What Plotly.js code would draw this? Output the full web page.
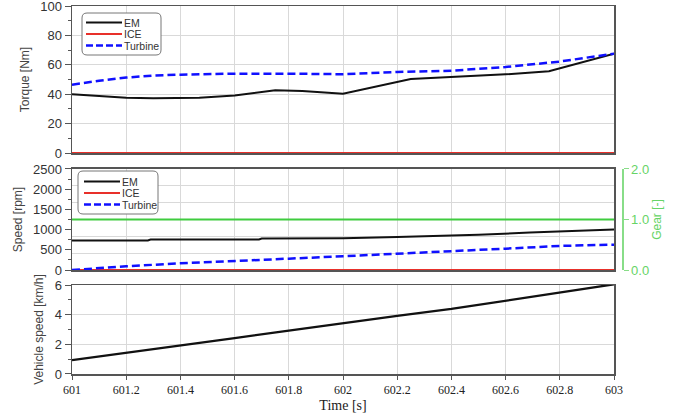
<!DOCTYPE html>
<html>
<head>
<meta charset="utf-8">
<script src="https://cdn.plot.ly/plotly-3.0.1.min.js"></script>
<style>html,body{margin:0;padding:0;background:#fff;}#chart{width:685px;height:418px;}</style>
</head>
<body>
<div id="chart"></div>
<script>
// ---- Torque panel ----
const torqueEmTime = [601, 601.1, 601.2, 601.3, 601.47, 601.6, 601.75, 601.85, 602.0, 602.25, 602.4, 602.6, 602.76, 603];
const torqueEm     = [40, 39, 37.6, 37.3, 37.6, 39.2, 42.7, 42.2, 40.3, 50.3, 51.5, 53.5, 55.6, 67.6];
const torqueTurbTime = [601, 601.1, 601.2, 601.3, 601.4, 601.5, 601.6, 601.8, 602.0, 602.2, 602.4, 602.6, 602.8, 603];
const torqueTurb     = [46.5, 49.2, 51.3, 52.7, 53.3, 53.8, 54.0, 54.0, 53.6, 55.1, 56.0, 58.5, 62.2, 67.6];
const torqueIceTime = [601, 603];
const torqueIce     = [0, 0];

// ---- Speed panel ----
const speedEmTime = [601, 601.28, 601.29, 601.69, 601.7, 602.0, 602.2, 602.5, 602.69, 603];
const speedEm     = [728, 730, 752, 755, 778, 785, 815, 870, 926, 1000];
const speedTurbTime = [601, 601.08, 601.2, 601.4, 601.6, 601.8, 602.0, 602.2, 602.4, 602.6, 602.8, 603];
const speedTurb     = [0, 42, 92, 166, 232, 281, 340, 397, 464, 529, 596, 628];
const speedIceTime = [601, 603];
const speedIce     = [0, 0];
const gearTime = [601, 603];
const gear     = [1, 1];

// ---- Vehicle speed panel ----
const vehTime = [601, 601.2, 601.4, 601.6, 601.8, 602.0, 602.2, 602.4, 602.6, 602.8, 603];
const vehSpeed = [0.93, 1.41, 1.9, 2.42, 2.93, 3.45, 3.92, 4.39, 4.96, 5.53, 6.05];

const xTicks = [601, 601.2, 601.4, 601.6, 601.8, 602, 602.2, 602.4, 602.6, 602.8, 603];
const xTickText = ['601','601.2','601.4','601.6','601.8','602','602.2','602.4','602.6','602.8','603'];
const torqueTicks = [0, 20, 40, 60, 80, 100];
const legendNames = ['EM', 'ICE', 'Turbine'];

const cBlack = '#111111', cRed = '#e8302a', cBlue = '#1010ff', cGreen = '#3fcc3f';
const dashPat = '8px,4px';

const traces = [
  {x: torqueEmTime, y: torqueEm, name: 'EM', xaxis: 'x', yaxis: 'y', mode: 'lines', line: {color: cBlack, width: 2}},
  {x: torqueIceTime, y: torqueIce, name: 'ICE', xaxis: 'x', yaxis: 'y', mode: 'lines', line: {color: cRed, width: 2}, cliponaxis: false},
  {x: torqueTurbTime, y: torqueTurb, name: 'Turbine', xaxis: 'x', yaxis: 'y', mode: 'lines', line: {color: cBlue, width: 2.5, dash: dashPat}},

  {x: gearTime, y: gear, name: 'Gear', xaxis: 'x2', yaxis: 'y4', mode: 'lines', line: {color: cGreen, width: 2}},
  {x: speedEmTime, y: speedEm, name: 'EM', xaxis: 'x2', yaxis: 'y2', mode: 'lines', line: {color: cBlack, width: 2}},
  {x: speedIceTime, y: speedIce, name: 'ICE', xaxis: 'x2', yaxis: 'y2', mode: 'lines', line: {color: cRed, width: 2}, cliponaxis: false},
  {x: speedTurbTime, y: speedTurb, name: 'Turbine', xaxis: 'x2', yaxis: 'y2', mode: 'lines', line: {color: cBlue, width: 2.5, dash: dashPat}},

  {x: vehTime, y: vehSpeed, name: 'Vehicle speed', xaxis: 'x3', yaxis: 'y3', mode: 'lines', line: {color: cBlack, width: 2.2}}
];

const gridC = '#d9d9d9';
const frameC = '#555555';
const sans = 'Liberation Sans, Arial, sans-serif';
const serif = 'Liberation Serif, Times New Roman, serif';
const xDom = [0, 0.914];

// pixel -> paper helpers (margins l=72, r=20, t=6, b=44)
const PL = 72, PW = 593, PB = 374, PH = 368;
const px = v => (v - PL) / PW;
const py = v => (PB - v) / PH;

function xAx(anchor, showLabels) {
  return {
    domain: xDom, anchor: anchor, range: [601, 603], showgrid: true, gridcolor: gridC, gridwidth: 1,
    tickvals: xTicks, ticktext: xTickText, showticklabels: showLabels,
    ticks: showLabels ? 'outside' : '', ticklen: 4, tickcolor: frameC,
    showline: true, linecolor: frameC, linewidth: 1.5, mirror: true, zeroline: false,
    ticklabeloverflow: 'allow',
    tickfont: {family: serif, size: 12, color: '#222'}
  };
}
function yAx(anchor, dom, rng, dtick, minorDtick, title) {
  return {
    domain: dom, anchor: anchor, range: rng, dtick: dtick, tick0: 0,
    showgrid: true, gridcolor: gridC, zeroline: false,
    ticks: 'outside', ticklen: 6, tickcolor: frameC,
    minor: {dtick: minorDtick, ticks: 'outside', ticklen: 3, tickcolor: frameC, showgrid: false},
    showline: true, linecolor: frameC, linewidth: 1.5, mirror: true,
    ticklabeloverflow: 'allow',
    tickfont: {family: sans, size: 13, color: '#333'},
    title: {text: title, font: {family: sans, size: 12, color: '#444'}, standoff: 8}
  };
}

// manual compact legends (box + samples + labels)
function roundRect(x0, y0, x1, y1, r) {
  const X0 = px(x0), X1 = px(x1), Y0 = py(y0), Y1 = py(y1);
  const rx = r / PW, ry = r / PH;
  return `M${X0 + rx},${Y0} L${X1 - rx},${Y0} Q${X1},${Y0} ${X1},${Y0 - ry} L${X1},${Y1 + ry} Q${X1},${Y1} ${X1 - rx},${Y1} L${X0 + rx},${Y1} Q${X0},${Y1} ${X0},${Y1 + ry} L${X0},${Y0 - ry} Q${X0},${Y0} ${X0 + rx},${Y0} Z`;
}
const shapes = [], annotations = [];
function addLegend(box, lineX0, lineX1, textX, rowsY) {
  shapes.push({type: 'path', xref: 'paper', yref: 'paper', path: roundRect(box[0], box[1], box[2], box[3], 5),
    line: {color: '#777', width: 1}, fillcolor: '#ffffff', layer: 'above'});
  const styles = [
    {color: cBlack, width: 2, dash: 'solid'},
    {color: cRed, width: 2, dash: 'solid'},
    {color: cBlue, width: 2.5, dash: '7px,3px'}
  ];
  rowsY.forEach((yy, i) => {
    shapes.push({type: 'line', xref: 'paper', yref: 'paper', x0: px(lineX0), x1: px(lineX1), y0: py(yy), y1: py(yy),
      line: styles[i], layer: 'above'});
    annotations.push({xref: 'paper', yref: 'paper', x: px(textX), y: py(yy), xanchor: 'left', yanchor: 'middle',
      text: legendNames[i], showarrow: false, borderpad: 0, font: {family: sans, size: 10.5, color: '#333'}});
  });
}
addLegend([82, 13, 161, 55], 86, 122, 123, [22.6, 34.1, 45.6]);
addLegend([78, 171, 158, 214], 84, 120, 121, [181.6, 193.1, 204.6]);

const layout = {
  width: 685, height: 418,
  margin: {l: PL, r: 20, t: 6, b: 44},
  paper_bgcolor: '#ffffff', plot_bgcolor: '#ffffff',
  showlegend: false,
  xaxis: xAx('y', false),
  xaxis2: Object.assign(xAx('y2', false), {matches: 'x'}),
  xaxis3: Object.assign(xAx('y3', true), {matches: 'x',
    title: {text: 'Time [s]', font: {family: serif, size: 14, color: '#222'}, standoff: 4}}),
  yaxis: Object.assign(yAx('x', [0.6005, 1], [0, 100], 20, 10, 'Torque [Nm]'), {tickvals: torqueTicks}),
  yaxis2: Object.assign(yAx('x2', [0.2826, 0.5571], [0, 2500], 500, 250, 'Speed [rpm]'), {showgrid: false}),
  yaxis3: yAx('x3', [0, 0.2418], [0, 6], 2, 1, 'Vehicle speed [km/h]'),
  yaxis4: {
    overlaying: 'y2', side: 'right', anchor: 'free', position: 0.9275,
    range: [0, 2], tickvals: [0, 1, 2], ticktext: ['0.0', '1.0', '2.0'],
    showgrid: false, zeroline: false,
    minor: {tickvals: [1/3, 2/3, 4/3, 5/3], showgrid: true, gridcolor: gridC, ticks: ''},
    ticks: 'outside', ticklen: 5, tickcolor: '#88dd88',
    showline: true, linecolor: '#88dd88', linewidth: 1.5,
    ticklabeloverflow: 'allow',
    tickfont: {family: sans, size: 13, color: '#66d466'},
    title: {text: 'Gear [-]', font: {family: sans, size: 12, color: '#66d466'}, standoff: 4}
  },
  shapes: shapes,
  annotations: annotations
};

Plotly.newPlot('chart', traces, layout, {staticPlot: true, displayModeBar: false});
</script>
</body>
</html>
